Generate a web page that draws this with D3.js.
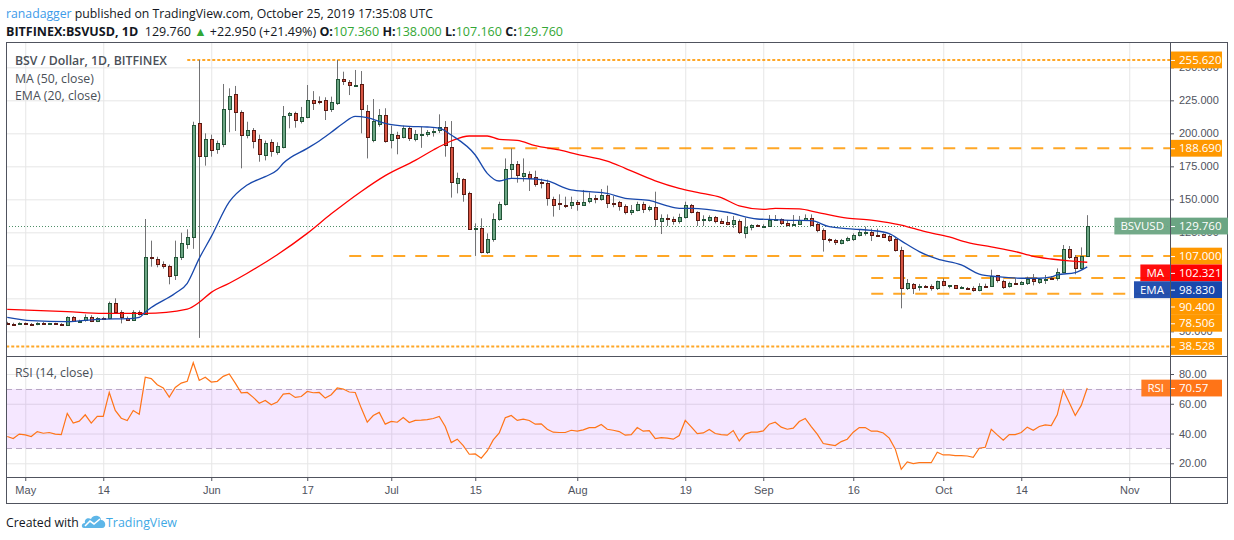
<!DOCTYPE html>
<html>
<head>
<meta charset="utf-8">
<title>BSVUSD 1D</title>
<script src="https://cdn.jsdelivr.net/npm/d3@7"></script>
<style>
    body { margin: 0; background: #ffffff; }
    svg { display: block; font-family: "Open Sans", "Noto Sans", sans-serif; }
</style>
</head>
<body>
<div id="chart"></div>
<script>
// Daily candles, first one is Apr 28 2019, one value per day
const firstDay = "2019-04-28";

const openValues = [
    56.4, 55.9, 55.4, 56.2, 55.8, 55.3, 56.4, 55.6, 56.0, 55.9,
    54.9, 60.6, 57.6, 58.0, 60.6, 57.6, 59.9, 59.6, 71.2, 64.4,
    60.4, 59.1, 64.9, 63.1, 106.0, 104.5, 101.0, 99.5, 92.2, 106.0,
    116.7, 121.2, 207.6, 182.3, 195.5, 188.1, 191.7, 218.2, 229.5, 215.9,
    198.2, 202.3, 195.5, 183.3, 193.2, 185.6, 189.4, 213.6, 215.2, 209.1,
    212.1, 225.0, 224.2, 225.0, 218.2, 223.2, 240.9, 238.6, 236.8, 237.4,
    216.9, 194.7, 206.8, 213.6, 194.7, 198.7, 197.0, 203.8, 195.5, 199.0,
    199.2, 200.8, 202.3, 204.8, 189.4, 162.6, 165.2, 154.5, 127.7, 128.0,
    110.4, 119.7, 134.6, 146.0, 173.2, 176.5, 167.9, 169.2, 166.7, 162.8,
    162.1, 150.5, 147.0, 145.7, 145.5, 147.7, 146.0, 148.2, 150.8, 149.7,
    153.0, 147.4, 147.7, 144.6, 139.9, 141.4, 146.2, 142.2, 143.9, 133.8,
    135.6, 135.1, 133.8, 136.1, 145.5, 140.2, 134.6, 134.1, 136.4, 133.8,
    132.6, 131.6, 133.3, 124.7, 129.0, 130.3, 129.8, 130.1, 134.6, 134.8,
    131.8, 130.1, 131.1, 134.3, 135.9, 131.1, 126.5, 119.7, 118.9, 117.2,
    118.9, 119.7, 122.7, 124.7, 125.0, 122.7, 123.7, 122.0, 119.7, 111.4,
    82.3, 86.2, 84.0, 84.4, 84.6, 82.3, 87.9, 84.7, 84.8, 83.2,
    82.9, 82.6, 80.8, 84.3, 84.1, 92.4, 88.4, 83.8, 86.5, 85.9,
    86.6, 89.4, 86.9, 89.9, 90.1, 90.0, 94.7, 112.1, 106.1, 97.5,
    107.36
];
const highValues = [
    57.2, 56.5, 56.8, 56.7, 56.3, 56.8, 57.0, 56.4, 56.5, 56.2,
    61.3, 61.5, 58.8, 62.8, 62.2, 60.8, 61.0, 72.5, 75.0, 66.0,
    61.2, 66.0, 65.8, 135.1, 118.7, 106.5, 103.0, 100.5, 118.7, 124.7,
    127.3, 208.8, 255.6, 200.0, 199.0, 194.5, 237.4, 234.1, 235.9, 217.4,
    208.8, 204.0, 199.0, 194.5, 195.5, 193.2, 220.7, 216.2, 216.4, 220.0,
    236.6, 232.0, 228.0, 227.3, 227.8, 255.6, 246.7, 240.4, 248.0, 247.2,
    221.5, 226.0, 218.4, 219.0, 205.8, 201.2, 205.8, 205.0, 202.5, 205.0,
    202.5, 203.8, 214.4, 209.3, 209.3, 170.2, 166.0, 155.8, 131.8, 135.6,
    124.2, 139.4, 148.2, 181.0, 188.6, 179.0, 181.0, 171.2, 171.7, 165.7,
    164.9, 152.0, 153.8, 152.0, 152.0, 149.5, 157.1, 155.3, 153.3, 157.8,
    160.4, 152.5, 148.8, 146.2, 145.7, 148.2, 148.2, 145.2, 155.8, 138.6,
    138.6, 136.9, 139.1, 148.2, 146.5, 140.9, 137.9, 137.9, 137.4, 135.4,
    137.4, 137.4, 134.8, 136.1, 131.1, 131.1, 131.1, 138.1, 138.1, 135.6,
    134.3, 138.1, 137.4, 138.6, 138.6, 132.3, 128.0, 120.5, 120.0, 120.0,
    121.7, 124.2, 127.3, 129.3, 127.8, 127.8, 124.2, 123.2, 120.9, 114.1,
    89.6, 86.6, 85.9, 85.1, 85.6, 88.4, 90.2, 85.1, 85.1, 84.3,
    83.6, 84.1, 86.4, 86.1, 96.7, 92.7, 89.1, 87.6, 90.2, 88.1,
    91.4, 93.4, 90.2, 92.7, 91.9, 97.7, 115.4, 114.6, 107.8, 113.6,
    138.0
];
const lowValues = [
    55.4, 54.9, 55.0, 55.5, 55.1, 54.6, 55.3, 55.2, 55.3, 54.5,
    54.3, 57.2, 57.0, 57.3, 57.0, 57.0, 58.6, 59.2, 63.5, 56.0,
    58.4, 58.8, 62.0, 62.5, 99.0, 98.5, 97.5, 85.6, 88.9, 104.0,
    112.5, 112.5, 45.0, 175.5, 182.3, 184.5, 189.5, 200.8, 201.8, 173.5,
    196.2, 188.6, 178.5, 179.5, 182.3, 183.8, 188.6, 203.8, 204.3, 207.5,
    211.4, 217.7, 222.0, 210.1, 216.2, 221.5, 236.6, 229.0, 236.2, 200.0,
    181.0, 193.2, 205.0, 192.9, 188.6, 184.1, 196.2, 194.2, 193.9, 189.0,
    197.5, 197.5, 200.3, 182.3, 151.3, 154.5, 148.2, 126.8, 107.1, 109.1,
    108.6, 117.9, 133.8, 145.2, 166.2, 162.6, 163.4, 156.3, 159.6, 158.3,
    145.2, 136.9, 141.9, 143.4, 142.7, 141.4, 145.5, 147.0, 147.0, 149.0,
    143.4, 144.0, 141.4, 138.6, 138.1, 140.9, 139.6, 140.9, 129.3, 123.7,
    129.8, 130.8, 131.6, 135.4, 139.4, 129.8, 129.8, 133.1, 131.8, 131.8,
    130.3, 128.3, 123.7, 120.5, 126.5, 129.3, 128.3, 129.8, 133.8, 130.6,
    129.5, 129.8, 130.6, 133.8, 130.1, 125.0, 110.4, 117.2, 115.4, 115.9,
    118.0, 118.4, 121.9, 122.5, 118.4, 121.7, 121.2, 117.7, 110.4, 67.4,
    81.3, 78.3, 80.8, 83.1, 80.8, 81.3, 84.1, 82.6, 82.1, 82.3,
    82.0, 80.0, 80.3, 83.1, 83.6, 86.9, 82.1, 83.1, 85.1, 85.1,
    85.1, 84.8, 85.9, 85.9, 88.9, 88.4, 93.9, 104.8, 93.2, 96.7,
    107.16
];
const closeValues = [
    55.9, 55.4, 56.2, 55.8, 55.6, 56.4, 55.6, 56.0, 55.7, 54.9,
    60.6, 57.6, 58.0, 60.6, 57.6, 59.9, 59.6, 71.2, 64.4, 60.4,
    59.1, 64.9, 63.1, 106.0, 105.3, 100.8, 99.2, 92.2, 106.0, 116.7,
    121.7, 206.3, 182.3, 195.5, 187.4, 192.4, 218.2, 228.0, 215.9, 198.2,
    202.3, 193.7, 184.1, 192.4, 186.1, 190.4, 213.1, 215.2, 209.8, 212.4,
    225.0, 222.7, 224.0, 217.4, 223.5, 241.2, 239.4, 236.4, 237.0, 218.2,
    197.0, 209.1, 213.6, 193.9, 199.2, 196.2, 203.8, 196.2, 199.2, 199.2,
    200.8, 201.8, 204.8, 190.9, 162.6, 166.2, 153.8, 127.3, 128.0, 109.8,
    120.0, 134.8, 146.2, 172.7, 176.8, 167.9, 170.0, 166.2, 161.4, 162.6,
    150.5, 146.0, 146.7, 145.5, 148.0, 146.2, 148.0, 150.8, 150.3, 153.0,
    146.7, 147.2, 144.4, 139.9, 141.7, 146.2, 142.4, 143.9, 134.8, 135.9,
    135.2, 133.3, 136.6, 145.5, 140.2, 134.1, 134.8, 136.4, 133.1, 132.3,
    130.8, 134.3, 124.7, 129.0, 130.3, 130.0, 130.1, 134.6, 134.8, 131.6,
    130.1, 131.1, 134.1, 135.6, 130.6, 126.5, 119.7, 118.7, 117.2, 119.2,
    120.7, 122.9, 125.0, 124.9, 122.5, 122.6, 121.7, 118.9, 111.1, 82.3,
    86.4, 83.1, 84.2, 84.2, 83.1, 87.9, 84.8, 84.9, 82.3, 83.4,
    82.7, 80.8, 84.1, 84.2, 91.7, 88.4, 83.8, 86.4, 86.3, 87.6,
    89.4, 87.6, 89.4, 90.0, 89.9, 94.7, 112.1, 106.1, 97.5, 106.81,
    129.76
];
// RSI (14, close), one value per candle
const rsiValues = [
    38.0, 36.6, 39.6, 39.1, 38.0, 41.3, 40.2, 40.7, 39.6, 39.3,
    53.5, 47.0, 48.3, 52.6, 47.0, 51.5, 51.5, 67.6, 55.5, 50.3,
    48.8, 55.5, 53.0, 77.8, 76.9, 72.8, 70.6, 64.5, 71.0, 73.9,
    75.1, 87.6, 75.7, 77.8, 74.6, 75.1, 78.4, 80.0, 73.9, 67.4,
    67.6, 64.3, 60.4, 62.2, 59.3, 61.1, 66.5, 67.0, 64.3, 64.9,
    68.3, 67.4, 67.6, 63.8, 66.1, 70.6, 69.9, 67.9, 67.6, 57.1,
    47.6, 52.1, 54.2, 46.3, 48.1, 47.6, 50.8, 47.4, 48.8, 49.0,
    49.4, 50.1, 51.5, 44.7, 33.9, 36.2, 31.9, 26.1, 26.3, 23.4,
    28.3, 35.7, 40.4, 50.6, 52.1, 48.8, 49.7, 48.8, 46.3, 46.5,
    42.9, 40.9, 40.7, 40.7, 42.2, 41.6, 42.5, 44.0, 44.0, 46.1,
    42.9, 42.2, 41.3, 38.9, 39.3, 44.0, 41.6, 42.0, 36.6, 37.3,
    36.9, 36.2, 38.7, 48.8, 44.5, 40.0, 40.4, 42.7, 40.0, 39.3,
    38.9, 42.0, 35.0, 39.6, 40.9, 40.9, 41.8, 46.3, 47.6, 44.3,
    42.9, 43.6, 48.1, 50.1, 44.7, 39.6, 33.3, 32.6, 31.9, 34.6,
    36.2, 40.9, 44.0, 44.0, 41.6, 41.6, 40.4, 36.9, 29.7, 16.0,
    20.9, 19.8, 20.4, 20.4, 20.4, 27.4, 25.6, 25.6, 25.2, 25.2,
    24.9, 24.0, 30.1, 30.8, 42.9, 39.1, 35.5, 39.3, 39.3, 40.7,
    44.3, 42.2, 44.7, 45.8, 45.4, 52.6, 69.2, 60.9, 52.1, 58.9,
    70.57
];

// MA (50, close)
const maDates = [
    "2019-04-28", "2019-05-08", "2019-05-14", "2019-05-21", "2019-05-28", "2019-05-30", "2019-06-01",
    "2019-06-04", "2019-06-07", "2019-06-12", "2019-06-17", "2019-06-21", "2019-06-26", "2019-06-30",
    "2019-07-05", "2019-07-08", "2019-07-11", "2019-07-14", "2019-07-17", "2019-07-19", "2019-07-22",
    "2019-07-25", "2019-07-29", "2019-08-01", "2019-08-06", "2019-08-09", "2019-08-14", "2019-08-18",
    "2019-08-21", "2019-08-25", "2019-08-28", "2019-09-01", "2019-09-03", "2019-09-07", "2019-09-10",
    "2019-09-15", "2019-09-19", "2019-09-21", "2019-09-24", "2019-09-28", "2019-10-02", "2019-10-05",
    "2019-10-09", "2019-10-13", "2019-10-16", "2019-10-19", "2019-10-22", "2019-10-25"
];
const maValues = [
    66.7, 64.9, 63.6, 63.6, 66.9, 72.0, 79.5,
    86.4, 94.0, 108.0, 124.2, 139.0, 156.0, 168.0,
    179.5, 187.4, 194.2, 198.0, 198.0, 195.5, 194.7,
    190.7, 187.4, 184.1, 179.0, 173.5, 164.0, 158.3,
    155.3, 151.3, 145.0, 142.4, 143.2, 142.7, 140.2,
    135.8, 134.3, 133.0, 130.5, 125.5, 121.5, 117.4,
    114.0, 110.4, 106.8, 104.8, 103.3, 102.321
];

// EMA (20, close)
const emaDates = [
    "2019-04-28", "2019-05-02", "2019-05-08", "2019-05-13", "2019-05-19", "2019-05-20", "2019-05-21",
    "2019-05-22", "2019-05-26", "2019-05-28", "2019-05-30", "2019-06-01", "2019-06-04", "2019-06-07",
    "2019-06-10", "2019-06-12", "2019-06-13", "2019-06-17", "2019-06-19", "2019-06-21", "2019-06-23",
    "2019-06-25", "2019-06-27", "2019-06-30", "2019-07-04", "2019-07-07", "2019-07-09", "2019-07-11",
    "2019-07-15", "2019-07-17", "2019-07-19", "2019-07-21", "2019-07-25", "2019-07-27", "2019-07-31",
    "2019-08-03", "2019-08-06", "2019-08-09", "2019-08-13", "2019-08-16", "2019-08-18", "2019-08-20",
    "2019-08-26", "2019-08-31", "2019-09-02", "2019-09-06", "2019-09-09", "2019-09-12", "2019-09-16",
    "2019-09-19", "2019-09-22", "2019-09-24", "2019-09-27", "2019-09-30", "2019-10-04", "2019-10-07",
    "2019-10-10", "2019-10-14", "2019-10-17", "2019-10-19", "2019-10-20", "2019-10-23", "2019-10-25"
];
const emaValues = [
    60.6, 58.1, 57.3, 59.1, 59.8, 60.5, 64.5,
    68.0, 78.8, 86.4, 105.3, 121.7, 148.0, 160.9,
    167.2, 172.2, 177.3, 188.6, 194.2, 200.8, 207.6,
    212.9, 211.9, 207.6, 205.3, 204.8, 204.0, 198.7,
    183.6, 169.7, 163.9, 165.9, 165.4, 163.9, 157.1,
    155.8, 154.5, 150.8, 149.2, 145.0, 143.2, 143.2,
    140.2, 135.1, 134.8, 134.1, 133.8, 129.3, 127.5,
    126.5, 124.0, 118.5, 110.4, 104.8, 100.3, 93.4,
    91.4, 90.2, 90.2, 91.2, 92.7, 94.5, 98.83
];

// Horizontal levels drawn by the author
const levelValues = [255.62, 188.69, 107.0, 90.4, 78.506, 38.528];
const levelFrom = ["2019-05-28", "2019-07-16", "2019-06-24", "2019-09-19", "2019-09-19", "2019-04-27"];
const levelDotted = [true, false, false, false, false, true];

// Axis ticks
const priceTicks = [50, 75, 100, 125, 150, 175, 200, 225, 250];
const rsiTicks = [20, 40, 60, 80];
const timeTickDates = ["2019-05-01", "2019-05-14", "2019-06-01", "2019-06-17", "2019-07-01", "2019-07-15",
    "2019-08-01", "2019-08-19", "2019-09-01", "2019-09-16", "2019-10-01", "2019-10-14", "2019-11-01"];
const timeTickLabels = ["May", "14", "Jun", "17", "Jul", "15", "Aug", "19", "Sep", "16", "Oct", "14", "Nov"];


// Shrink or grow a text so it spans the given width
function fitWidth(sel, target) {
    const w = sel.node().getComputedTextLength();
    const size = parseFloat(sel.attr("font-size")) * target / w;
    sel.attr("font-size", size.toFixed(2));
    return size;
}

function buildChart() {
    const width = 1234, height = 540;
    const frame = { left: 6, right: 1227, top: 42, bottom: 503 };
    const axisX = 1170;
    const paneSplit = 356, rsiBottom = 477;

    const upColor = "#6ba583", downColor = "#d75442";
    const upBorder = "#225437", downBorder = "#5b1a13";
    const wickColor = "#737375";
    const maColor = "#ff0000", emaColor = "#1848ac";
    const levelColor = "#ff9800", rsiColor = "#ff7417";
    const gridColor = "#e6e6e6", frameColor = "#50535e", textColor = "#50535e";

    const parseDay = d3.utcParse("%Y-%m-%d");
    const start = parseDay(firstDay);
    const days = d3.utcDay.range(start, d3.utcDay.offset(start, closeValues.length));
    const candles = days.map((d, i) => ({
        date: d, open: openValues[i], high: highValues[i], low: lowValues[i], close: closeValues[i], rsi: rsiValues[i]
    }));
    const maData = maDates.map((d, i) => ({ date: parseDay(d), value: maValues[i] }));
    const emaData = emaDates.map((d, i) => ({ date: parseDay(d), value: emaValues[i] }));
    const tickDates = timeTickDates.map(parseDay);

    const svg = d3.select("#chart").append("svg")
        .attr("width", width)
        .attr("height", height)
        .attr("viewBox", `0 0 ${width} ${height}`);

    // Scales: about 6px per day, price and RSI panes stacked
    const xScale = d3.scaleUtc()
        .domain([new Date(Date.UTC(2019, 3, 27, 19)), new Date(Date.UTC(2019, 10, 7, 19))])
        .range([frame.left, axisX]);
    const yPrice = d3.scaleLinear().domain([31.3, 269.2]).range([paneSplit, frame.top]);
    const yRsi = d3.scaleLinear().domain([10.8, 92.1]).range([rsiBottom, paneSplit]);

    const defs = svg.append("defs");
    defs.append("clipPath").attr("id", "clip-price")
        .append("rect")
        .attr("x", frame.left).attr("y", frame.top)
        .attr("width", axisX - frame.left).attr("height", paneSplit - frame.top);
    defs.append("clipPath").attr("id", "clip-rsi")
        .append("rect")
        .attr("x", frame.left).attr("y", paneSplit)
        .attr("width", axisX - frame.left).attr("height", rsiBottom - paneSplit);

    // Grid lines
    svg.append("g")
        .attr("transform", `translate(${frame.left},0)`)
        .call(d3.axisLeft(yPrice).tickValues(priceTicks).tickSize(-(axisX - frame.left)).tickFormat(""))
        .call(g => g.select(".domain").remove())
        .selectAll(".tick line").attr("stroke", gridColor);
    svg.append("g")
        .attr("transform", `translate(${frame.left},0)`)
        .call(d3.axisLeft(yRsi).tickValues(rsiTicks).tickSize(-(axisX - frame.left)).tickFormat(""))
        .call(g => g.select(".domain").remove())
        .selectAll(".tick line").attr("stroke", gridColor);
    svg.append("g")
        .attr("transform", `translate(0,${rsiBottom})`)
        .call(d3.axisBottom(xScale).tickValues(tickDates).tickSize(-(rsiBottom - frame.top)).tickFormat(""))
        .call(g => g.select(".domain").remove())
        .selectAll(".tick line").attr("stroke", gridColor);

    // ---- price pane ----
    const price = svg.append("g").attr("clip-path", "url(#clip-price)");

    // Last price dotted line
    const last = candles[candles.length - 1];
    price.append("line")
        .attr("x1", frame.left).attr("x2", axisX)
        .attr("y1", Math.round(yPrice(last.close)) + 0.5).attr("y2", Math.round(yPrice(last.close)) + 0.5)
        .attr("stroke", "#4f8f68")
        .attr("stroke-dasharray", "1,2");

    // Author levels
    const levels = levelValues.map((v, i) => ({ value: v, from: parseDay(levelFrom[i]), dotted: levelDotted[i] }));
    price.selectAll("line.level")
        .data(levels)
        .join("line")
        .attr("class", "level")
        .attr("x1", (d) => xScale(d.from))
        .attr("x2", axisX)
        .attr("y1", (d) => yPrice(d.value))
        .attr("y2", (d) => yPrice(d.value))
        .attr("stroke", levelColor)
        .attr("stroke-opacity", 0.85)
        .attr("stroke-width", 2)
        .attr("stroke-dasharray", (d) => d.dotted ? "3,2" : "12,10");

    // Candles
    const dayPx = xScale(days[1]) - xScale(days[0]);
    const bodyW = Math.max(1, Math.round(dayPx * 0.55));
    const candleG = price.selectAll("g.candle")
        .data(candles)
        .join("g")
        .attr("class", "candle");
    candleG.append("line")
        .attr("x1", (d) => Math.round(xScale(d.date)) + 0.5)
        .attr("x2", (d) => Math.round(xScale(d.date)) + 0.5)
        .attr("y1", (d) => yPrice(d.high))
        .attr("y2", (d) => yPrice(d.low))
        .attr("stroke", wickColor);
    candleG.append("rect")
        .attr("x", (d) => Math.round(xScale(d.date) - bodyW / 2) + 0.5)
        .attr("y", (d) => Math.round(yPrice(Math.max(d.open, d.close))) + 0.5)
        .attr("width", bodyW)
        .attr("height", (d) => Math.max(1, Math.round(Math.abs(yPrice(d.open) - yPrice(d.close)))))
        .attr("fill", (d) => d.close >= d.open ? upColor : downColor)
        .attr("stroke", (d) => d.close >= d.open ? upBorder : downBorder);

    // Moving averages
    const avgLine = d3.line()
        .x((d) => xScale(d.date))
        .y((d) => yPrice(d.value))
        .curve(d3.curveMonotoneX);
    price.append("path")
        .attr("d", avgLine(maData))
        .attr("fill", "none")
        .attr("stroke", maColor)
        .attr("stroke-width", 1.3);
    price.append("path")
        .attr("d", avgLine(emaData))
        .attr("fill", "none")
        .attr("stroke", emaColor)
        .attr("stroke-width", 1.3);

    // ---- RSI pane ----
    const rsi = svg.append("g").attr("clip-path", "url(#clip-rsi)");
    rsi.append("rect")
        .attr("x", frame.left).attr("width", axisX - frame.left)
        .attr("y", yRsi(70)).attr("height", yRsi(30) - yRsi(70))
        .attr("fill", "rgba(153, 21, 255, 0.1)");
    rsi.selectAll("line.band")
        .data([70, 30])
        .join("line")
        .attr("class", "band")
        .attr("x1", frame.left).attr("x2", axisX)
        .attr("y1", (d) => Math.round(yRsi(d)) + 0.5).attr("y2", (d) => Math.round(yRsi(d)) + 0.5)
        .attr("stroke", "#b8a8c4")
        .attr("stroke-dasharray", "6,4");
    rsi.append("path")
        .attr("d", d3.line().x((d) => xScale(d.date)).y((d) => yRsi(d.rsi))(candles))
        .attr("fill", "none")
        .attr("stroke", rsiColor)
        .attr("stroke-width", 1.2);

    // ---- frame and axes ----
    svg.append("rect")
        .attr("x", frame.left + 0.5).attr("y", frame.top + 0.5)
        .attr("width", frame.right - frame.left).attr("height", frame.bottom - frame.top)
        .attr("fill", "none").attr("stroke", frameColor);
    svg.selectAll("line.split")
        .data([paneSplit, rsiBottom])
        .join("line")
        .attr("class", "split")
        .attr("x1", frame.left).attr("x2", frame.right)
        .attr("y1", (d) => d + 0.5).attr("y2", (d) => d + 0.5)
        .attr("stroke", frameColor);
    svg.append("line")
        .attr("x1", axisX + 0.5).attr("x2", axisX + 0.5)
        .attr("y1", frame.top).attr("y2", frame.bottom)
        .attr("stroke", frameColor);

    const styleAxis = (g) => {
        g.select(".domain").remove();
        g.selectAll(".tick line").attr("stroke", textColor);
        g.selectAll("text")
            .attr("fill", textColor)
            .style("font-size", "11px");
    };
    const priceAxis = svg.append("g")
        .attr("transform", `translate(${axisX},0)`)
        .call(d3.axisRight(yPrice).tickValues(priceTicks).tickSize(4).tickPadding(5).tickFormat(d3.format(".3f")))
        .call(styleAxis);
    svg.append("g")
        .attr("transform", `translate(${axisX},0)`)
        .call(d3.axisRight(yRsi).tickValues(rsiTicks).tickSize(4).tickPadding(5).tickFormat(d3.format(".2f")))
        .call(styleAxis);
    svg.append("g")
        .attr("transform", `translate(0,${rsiBottom})`)
        .call(d3.axisBottom(xScale).tickValues(tickDates).tickSize(4).tickPadding(5).tickFormat((d, i) => timeTickLabels[i]))
        .call(styleAxis);

    // ---- value labels on the price axis, pushed apart so they do not overlap ----
    const fmt3 = d3.format(".3f");
    const lastMa = maData[maData.length - 1].value;
    const lastEma = emaData[emaData.length - 1].value;
    const axisLabels = levels.map((d) => ({ value: d.value, fill: levelColor, w: 51 }))
        .concat([
            { value: last.close, fill: upColor, w: 57, tag: "BSVUSD" },
            { value: lastMa, fill: maColor, w: 51, tag: "MA" },
            { value: lastEma, fill: emaColor, w: 51, tag: "EMA" }
        ])
        .sort((a, b) => b.value - a.value);
    const boxH = 16.8;
    let prevY = -Infinity;
    axisLabels.forEach((d) => {
        d.y = Math.max(yPrice(d.value), prevY + boxH);
        prevY = d.y;
    });

    // Tick texts that sit completely under the label boxes are not visible in the original
    const covered = (y) => axisLabels.some((d) => Math.abs(d.y - y) <= boxH / 2 + 0.5);
    priceAxis.selectAll(".tick")
        .filter((v) => [-4, 0, 4].every((dy) => covered(yPrice(v) + dy)))
        .select("text").remove();

    const drawAxisLabel = (d, text) => {
        const g = svg.append("g").attr("transform", `translate(0,${d.y})`);
        g.append("rect")
            .attr("x", axisX + 1).attr("y", -boxH / 2)
            .attr("width", d.w).attr("height", boxH)
            .attr("fill", d.fill);
        g.append("line")
            .attr("x1", axisX + 1).attr("x2", axisX + 5)
            .attr("y1", 0.5).attr("y2", 0.5)
            .attr("stroke", "#ffffff");
        g.append("text")
            .attr("x", axisX + 9).attr("dy", "0.35em")
            .attr("fill", "#ffffff")
            .style("font-size", "11.5px")
            .text(text);
        if (d.tag) {
            const t = g.append("text")
                .attr("text-anchor", "middle").attr("dy", "0.35em")
                .attr("fill", "#ffffff")
                .style("font-size", "11.5px")
                .text(d.tag);
            const tagW = t.node().getComputedTextLength() + 12;
            g.insert("rect", "text")
                .attr("x", axisX - tagW).attr("y", -boxH / 2)
                .attr("width", tagW).attr("height", boxH)
                .attr("fill", d.fill)
                .attr("opacity", 0.95);
            t.attr("x", axisX - tagW / 2);
        }
    };
    axisLabels.forEach((d) => drawAxisLabel(d, fmt3(d.value)));
    drawAxisLabel({ y: yRsi(last.rsi), fill: rsiColor, w: 51, tag: "RSI" }, d3.format(".2f")(last.rsi));

    // ---- legends ----
    const legend = svg.append("g").attr("fill", "#4a4f57");
    const title = legend.append("text")
        .attr("x", 15).attr("y", 65)
        .attr("font-size", 13)
        .attr("font-weight", 600)
        .text("BSV / Dollar, 1D, BITFINEX");
    const legendSize = fitWidth(title, 152);
    legend.append("text").attr("x", 15).attr("y", 83).attr("font-size", legendSize).text("MA (50, close)");
    legend.append("text").attr("x", 15).attr("y", 100).attr("font-size", legendSize).text("EMA (20, close)");
    legend.append("text").attr("x", 15).attr("y", 377).attr("font-size", legendSize).text("RSI (14, close)");

    // ---- header ----
    const head1 = svg.append("text")
        .attr("x", 6).attr("y", 18)
        .attr("font-size", 13.5)
        .attr("fill", "#131722");
    head1.append("tspan").attr("fill", "#3d9be9").text("ranadagger");
    head1.append("tspan").text(" published on TradingView.com, October 25, 2019 17:35:08 UTC");
    fitWidth(head1, 427);

    const green = "#33a735";
    const head2 = svg.append("text")
        .attr("x", 6).attr("y", 36)
        .attr("font-size", 13.5)
        .attr("fill", "#131722");
    head2.append("tspan").attr("font-weight", 700).text("BITFINEX:BSVUSD, 1D");
    head2.append("tspan").text(`\u00a0 ${fmt3(last.close)} `);
    head2.append("tspan").attr("fill", green).text("\u25B2");
    head2.append("tspan").text(" +22.950 (+21.49%) ");
    [["O:", last.open], ["H:", last.high], ["L:", last.low], ["C:", last.close]].forEach(([k, v], i) => {
        head2.append("tspan").attr("font-weight", 700).text((i ? " " : "") + k);
        head2.append("tspan").attr("fill", green).text(fmt3(v));
    });
    fitWidth(head2, 557);

    // ---- footer ----
    const foot = svg.append("text")
        .attr("x", 6).attr("y", 527)
        .attr("font-size", 13)
        .attr("fill", "#131722")
        .text("Created with");
    fitWidth(foot, 73);
    const logo = svg.append("g").attr("transform", "translate(82,514)");
    logo.append("path")
        .attr("d", "M2,14 C-1,14 -1,9 3,9 C2,5 6,3 9,5 C11,0 19,1 19,6 C24,6 25,14 20,14 Z")
        .attr("fill", "#5eb6e8");
    logo.append("polyline")
        .attr("points", "3,12 8,7 12,10 18,5")
        .attr("fill", "none")
        .attr("stroke", "#ffffff")
        .attr("stroke-width", 1.6);
    const brand = svg.append("text")
        .attr("x", 106).attr("y", 527)
        .attr("font-size", 13)
        .attr("fill", "#3fa9e5")
        .text("TradingView");
    fitWidth(brand, 71);
}

buildChart();
</script>
</body>
</html>
